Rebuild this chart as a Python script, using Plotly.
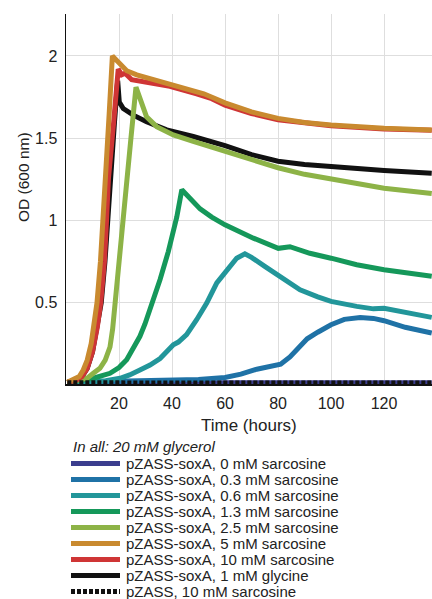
import plotly.graph_objects as go

# ---------------- data ----------------
series_names = [
    "pZASS-soxA, 0 mM sarcosine",
    "pZASS-soxA, 0.3 mM sarcosine",
    "pZASS-soxA, 0.6 mM sarcosine",
    "pZASS-soxA, 1.3 mM sarcosine",
    "pZASS-soxA, 2.5 mM sarcosine",
    "pZASS-soxA, 5 mM sarcosine",
    "pZASS-soxA, 10 mM sarcosine",
    "pZASS-soxA, 1 mM glycine",
    "pZASS, 10 mM sarcosine",
]
series_colors = ["#3b3d8e", "#1f72a6", "#22969a", "#15985a", "#8db347",
                 "#c98a2f", "#cf3535", "#111111", "#111111"]

t_sar0 = [0.5, 20, 40, 60, 80, 100, 120, 138]
od_sar0 = [0.012, 0.013, 0.013, 0.012, 0.012, 0.012, 0.012, 0.012]

t_sar03 = [0.5, 20, 30, 40, 50, 60, 66, 72, 78, 81, 84.5, 88, 91, 95, 100, 105, 111, 116, 120, 128, 138]
od_sar03 = [0.015, 0.02, 0.022, 0.026, 0.032, 0.045, 0.065, 0.095, 0.113, 0.125, 0.17, 0.23, 0.28, 0.32,
            0.365, 0.398, 0.41, 0.404, 0.39, 0.35, 0.315]

t_sar06 = [0.5, 15, 20.4, 24, 27.9, 31.7, 35.5, 38, 40.5, 42.4, 45.5, 49.3, 53.1, 56.9, 60.6, 64.4, 67.5,
           70, 75, 80, 88.3, 95, 100, 109.7, 116, 120, 126, 138]
od_sar06 = [0.015, 0.025, 0.04, 0.06, 0.09, 0.12, 0.16, 0.2, 0.244, 0.26, 0.305, 0.396, 0.497, 0.62, 0.70,
            0.77, 0.797, 0.775, 0.72, 0.665, 0.578, 0.535, 0.507, 0.477, 0.462, 0.466, 0.447, 0.41]

t_sar13 = [0.5, 10.3, 16.6, 20, 22.9, 25.5, 27.9, 29.8, 31.7, 34.2, 35.5, 38.6, 41.8, 43.7, 44.6, 48, 50.6,
           55, 60, 70.7, 80.1, 84.5, 92, 100, 109.7, 120, 138]
od_sar13 = [0.015, 0.04, 0.07, 0.105, 0.153, 0.22, 0.295, 0.37, 0.457, 0.56, 0.64, 0.81, 1.02, 1.186, 1.17,
            1.105, 1.07, 1.02, 0.973, 0.892, 0.83, 0.84, 0.80, 0.77, 0.73, 0.70, 0.66]

t_sar25 = [0.5, 8, 10.3, 12.8, 14.8, 16.6, 17.6, 18.5, 20.4, 22.3, 24.5, 26.4, 28.5, 30.4, 34.2, 40.5, 48,
           55, 60, 70, 80, 90, 100, 110, 120, 138]
od_sar25 = [0.015, 0.04, 0.07, 0.10, 0.15, 0.23, 0.34, 0.50, 0.80, 1.15, 1.5, 1.81, 1.71, 1.63, 1.57, 1.52,
            1.48, 1.445, 1.42, 1.37, 1.32, 1.28, 1.25, 1.22, 1.196, 1.163]

t_sar5 = [0.5, 3, 5, 6.5, 8, 9.5, 11, 11.7, 13, 14, 15, 16.3, 17.5, 19.1, 20.4, 22.9, 26.7, 35.5, 48,
          52, 56, 60, 70, 80, 90, 100, 120, 138]
od_sar5 = [0.015, 0.03, 0.05, 0.09, 0.15, 0.25, 0.4, 0.5, 0.75, 1.0, 1.3, 1.65, 2.0, 1.97, 1.95, 1.91,
           1.885, 1.845, 1.79, 1.77, 1.743, 1.715, 1.66, 1.62, 1.595, 1.58, 1.56, 1.55]

t_sar10 = [0.5, 4, 6, 8, 10, 11.8, 13.1, 14.5, 15.3, 16, 18, 19.7, 21, 22.3, 24.8, 30.4, 39.2, 49.3,
           55, 60, 70, 80, 90, 100, 120, 138]
od_sar10 = [0.015, 0.03, 0.05, 0.1, 0.2, 0.35, 0.5, 0.75, 1.0, 1.25, 1.6, 1.92, 1.885, 1.895, 1.855, 1.84,
            1.815, 1.77, 1.74, 1.70, 1.65, 1.612, 1.59, 1.575, 1.555, 1.548]

t_gly = [0.5, 4, 6, 8, 10, 12, 13.3, 14.7, 15.7, 16.8, 18.3, 19.5, 20.1, 21.6, 25.4, 30.4, 38, 48,
         55, 60, 70, 80, 90, 100, 120, 138]
od_gly = [0.015, 0.03, 0.05, 0.1, 0.2, 0.37, 0.5, 0.75, 1.0, 1.3, 1.6, 1.85, 1.72, 1.68, 1.64, 1.60,
          1.55, 1.51, 1.48, 1.455, 1.40, 1.36, 1.34, 1.327, 1.303, 1.287]

t_ctrl = [0.5, 20, 40, 60, 80, 100, 120, 138]
od_ctrl = [0.012, 0.012, 0.012, 0.012, 0.012, 0.011, 0.011, 0.011]

x_ticks = [20, 40, 60, 80, 100, 120]
y_ticks = [0.5, 1, 1.5, 2]
y_tick_text = ["0.5", "1", "1.5", "2"]

series_t = [t_sar0, t_sar03, t_sar06, t_sar13, t_sar25, t_sar5, t_sar10, t_gly, t_ctrl]
series_od = [od_sar0, od_sar03, od_sar06, od_sar13, od_sar25, od_sar5, od_sar10, od_gly, od_ctrl]
series_dash = ["solid"] * 8 + ["4px,2px"]

# drawing order (later = on top)
draw_order = [0, 1, 2, 3, 7, 4, 6, 5, 8]

FONT = "Liberation Sans, Arial, sans-serif"
W, H = 432, 599
L, R, T, B = 66, 0, 14, 599 - 384
PW, PH = W - L - R, H - T - B

def px_x(px):
    return (px - L) / PW

def px_y(py):
    return (H - B - py) / PH

fig = go.Figure()
for i in draw_order:
    fig.add_trace(go.Scatter(
        x=series_t[i], y=series_od[i], mode="lines", name=series_names[i],
        line=dict(color=series_colors[i], width=5, dash=series_dash[i]),
        showlegend=False, hoverinfo="skip"))

shapes = []
annotations = []
# legend drawn manually (compact spacing like the reference)
legend_top = 463.5
legend_step = 16.0
annotations.append(dict(
    x=px_x(71), y=px_y(446), xref="paper", yref="paper", xanchor="left", yanchor="middle",
    text="<i>In all: 20 mM glycerol</i>", showarrow=False,
    font=dict(family=FONT, size=15, color="#222222")))
for k, name in enumerate(series_names):
    yy = legend_top + k * legend_step
    shapes.append(dict(
        type="line", xref="paper", yref="paper", x0=px_x(71), x1=px_x(120), y0=px_y(yy), y1=px_y(yy),
        line=dict(color=series_colors[k], width=5, dash=series_dash[k])))
    annotations.append(dict(
        x=px_x(124), y=px_y(yy), xref="paper", yref="paper", xanchor="left", yanchor="middle",
        text=name, showarrow=False, font=dict(family=FONT, size=15, color="#222222")))

annotations.append(dict(
    x=px_x(249), y=px_y(425), xref="paper", yref="paper", xanchor="center", yanchor="middle",
    text="Time (hours)", showarrow=False, font=dict(family=FONT, size=17, color="#222222")))
annotations.append(dict(
    x=px_x(23), y=px_y(177), xref="paper", yref="paper", xanchor="center", yanchor="middle",
    text="OD (600 nm)", textangle=-90, showarrow=False,
    font=dict(family=FONT, size=15.5, color="#222222")))

fig.update_layout(
    width=W, height=H, margin=dict(l=L, r=R, t=T, b=B, pad=0),
    paper_bgcolor="white", plot_bgcolor="white",
    font=dict(family=FONT, size=16, color="#222222"),
    shapes=shapes, annotations=annotations, showlegend=False,
    xaxis=dict(range=[0, 138.1], tickvals=x_ticks, showgrid=True, gridcolor="#dedede", gridwidth=1,
               showline=True, linecolor="#111111", linewidth=1.5, ticks="", zeroline=False,
               tickfont=dict(size=16, color="#222222"), ticklabelstandoff=4),
    yaxis=dict(range=[0.005, 2.255], tickvals=y_ticks, ticktext=y_tick_text, showgrid=True,
               gridcolor="#dedede", gridwidth=1, showline=True, linecolor="#111111", linewidth=1.5,
               ticks="", zeroline=False, tickfont=dict(size=16, color="#222222"), ticklabelstandoff=4),
)

fig.write_html("out.html", config={"displayModeBar": False, "staticPlot": True},
               post_script="document.body.style.margin='0';document.body.style.overflow='hidden';")
